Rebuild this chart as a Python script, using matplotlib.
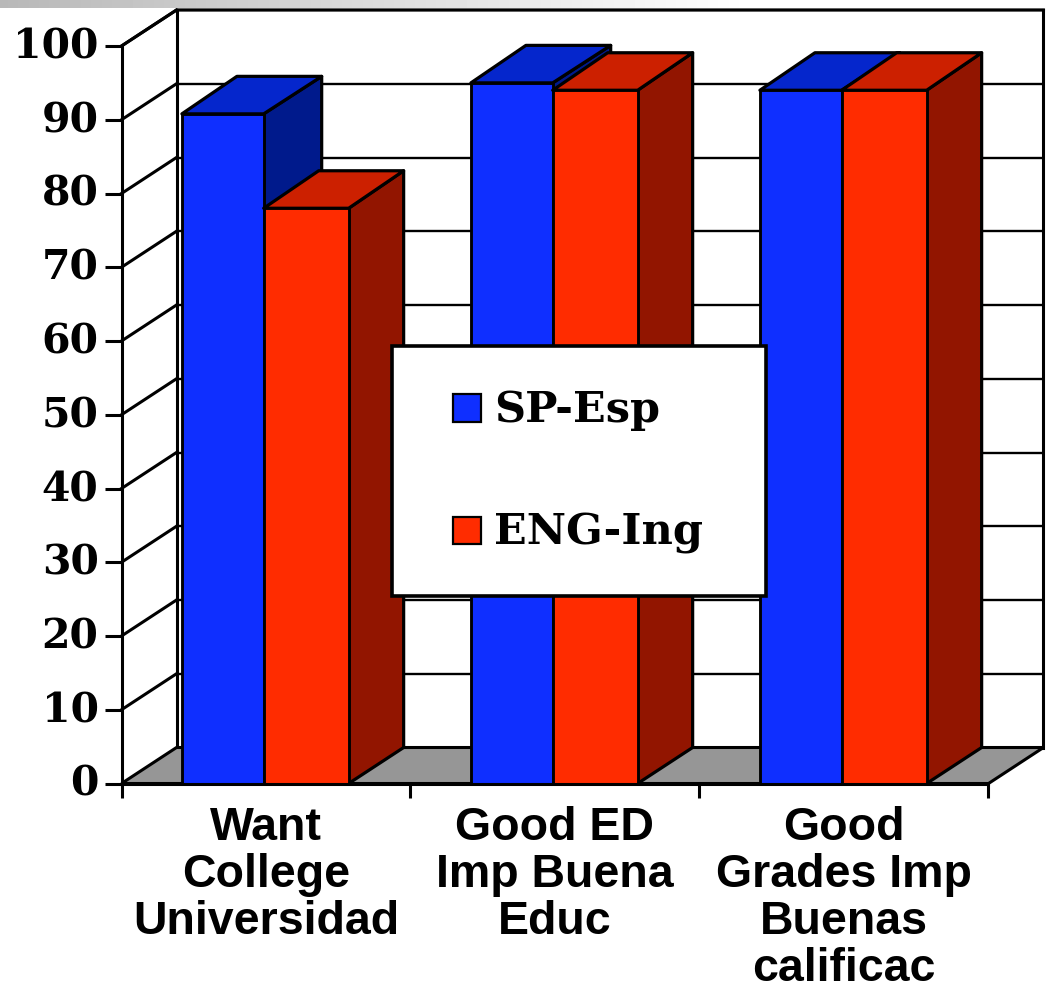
import numpy as np
import matplotlib
matplotlib.use("Agg")
import matplotlib.pyplot as plt
from matplotlib.patches import Polygon, Rectangle
from matplotlib.legend_handler import HandlerPatch
from matplotlib.transforms import ScaledTranslation

categories = ["Want\nCollege\nUniversidad", "Good ED\nImp Buena\nEduc", "Good\nGrades Imp\nBuenas\ncalificac"]
series_names = ["SP-Esp", "ENG-Ing"]
sp_values = [90.8, 95.0, 94.0]
eng_values = [78.0, 94.0, 94.0]
y_ticks = list(range(0, 101, 10))

W, H = 1051, 984
L, R, B, T = 121.5, 988.5, 783.5, 46
fig = plt.figure(figsize=(W / 100, H / 100), dpi=100, facecolor="white")
ax = fig.add_axes([L / W, 1 - B / H, (R - L) / W, (B - T) / H])
ax.set_xlim(0, 3)
ax.set_ylim(0, 100)
ax.patch.set_visible(False)

# top gradient strip
strip = np.linspace(0.72, 1.0, 750)
strip = np.concatenate([strip, np.ones(W - 750)])
fig.figimage(np.tile(strip, (8, 1)), xo=0, yo=H - 8, cmap="gray", vmin=0, vmax=1, zorder=0)

px_x = (R - L) / 3
px_y = (B - T) / 100
dx = 55 / px_x
dy = 36 / px_y
xmax = 3
ymax = 100
LW = 2.2
GRID_LW = 1.7
BAR_LW = 2.3
bar_dy = 37.5 / px_y
bar_dx = [[55 / px_x, 58 / px_x], [55 / px_x, 55 / px_x]]

# walls and floor
ax.add_patch(Polygon([(0, 0), (dx, dy), (xmax + dx, dy), (xmax, 0)], closed=True, fc="#969696",
                     ec="black", lw=LW, clip_on=False, zorder=1.5))
for v in y_ticks[1:]:
    ax.plot([dx, xmax + dx], [v + dy, v + dy], color="black", lw=GRID_LW, clip_on=False, zorder=1)
    ax.plot([0, dx], [v, v + dy], color="black", lw=LW, clip_on=False, zorder=1)
ax.plot([dx, dx], [dy, ymax + dy], color="black", lw=LW, clip_on=False, zorder=1.2)
ax.plot([xmax + dx, xmax + dx], [dy, ymax + dy], color="black", lw=LW, clip_on=False, zorder=1.2)
ax.plot([0, dx, xmax + dx], [ymax, ymax + dy, ymax + dy], color="black", lw=LW, clip_on=False, zorder=1.2)

# 3-D bars
x_offsets = [0.209, 0.492]
widths = [0.283, 0.294]
styles = [("#0F2FFF", "#0526CC", "#001A8C"), ("#FF2C00", "#CC2000", "#921500")]
handles = []
z = 3.0
for cat in range(len(categories)):
    for s, vals in enumerate([sp_values, eng_values]):
        x0 = cat + x_offsets[s]
        w = widths[s]
        v = vals[cat]
        front, top, side = styles[s]
        dl, dr = bar_dx[s]
        ax.add_patch(Polygon([(x0 + w, 0), (x0 + w + dr, dy), (x0 + w + dr, v + bar_dy), (x0 + w, v)], closed=True,
                             fc=side, ec="black", lw=BAR_LW, clip_on=False, zorder=z, joinstyle="round"))
        ax.add_patch(Polygon([(x0, v), (x0 + dl, v + bar_dy), (x0 + w + dr, v + bar_dy), (x0 + w, v)], closed=True,
                             fc=top, ec="black", lw=BAR_LW, clip_on=False, zorder=z + 0.01, joinstyle="round"))
        bars = ax.bar(x0, v, width=w, align="edge", color=front, edgecolor="black", lw=BAR_LW * 0.9,
                      clip_on=False, zorder=z + 0.02, label=series_names[s] if cat == 0 else None)
        if cat == 0:
            handles.append(bars[0])
        z += 0.1

# axes
for sp in ["top", "right"]:
    ax.spines[sp].set_visible(False)
for sp in ["left", "bottom"]:
    ax.spines[sp].set_linewidth(LW)
    ax.spines[sp].set_zorder(10)
ax.set_yticks(y_ticks)
ax.set_yticklabels([str(v) for v in y_ticks], family="DejaVu Serif", fontweight="bold", fontsize=29.5)
ax.tick_params(axis="y", length=12, width=LW, pad=4.5)
lift = ScaledTranslation(0, 3 / 100, fig.dpi_scale_trans)
for lab in ax.get_yticklabels():
    lab.set_transform(lab.get_transform() + lift)
ax.set_xticks([0, 1, 2, 3])
ax.set_xticklabels([])
ax.tick_params(axis="x", which="major", length=10, width=LW)
ax.set_xticks([0.5, 1.5, 2.5], minor=True)
ax.set_xticklabels(categories, minor=True, family="Liberation Sans", fontweight="bold", fontsize=33.5,
                   linespacing=1.08)
ax.tick_params(axis="x", which="minor", length=0, pad=16.5)


class SquareHandler(HandlerPatch):
    """Legend key: a small square sitting at the right end of a wider key box."""

    def create_artists(self, legend, orig_handle, xdescent, ydescent, width, height, fontsize, trans):
        side = 20.0
        p = Rectangle((width - side - xdescent, 0.5 * (height - side) - ydescent - 1), side, side,
                      facecolor=orig_handle.get_facecolor(), edgecolor="black", lw=1.6, transform=trans)
        return [p]


leg = ax.legend(handles=handles, labels=series_names, loc="upper left",
                bbox_to_anchor=(392 / W, 1 - 596 / H, 374 / W, 250 / H), bbox_transform=fig.transFigure,
                mode="expand", borderaxespad=0, fancybox=False, framealpha=1, edgecolor="black", facecolor="white",
                prop={"family": "DejaVu Serif", "weight": "bold", "size": 31},
                borderpad=0.99, labelspacing=1.87, handlelength=1.08, handleheight=0.7, handletextpad=0.3,
                handler_map={Rectangle: SquareHandler()})
leg.get_frame().set_linewidth(2.6)
leg.set_zorder(20)

fig.savefig("out.png", dpi=100)
